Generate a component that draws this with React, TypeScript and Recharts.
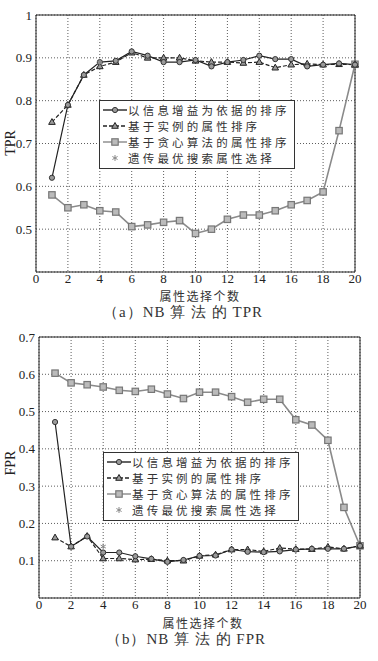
import React from 'react';
import {
  LineChart,
  Line,
  XAxis,
  YAxis,
  CartesianGrid,
  Legend,
  ReferenceArea,
} from 'recharts';

// 属性选择个数
const featureCounts = [1, 2, 3, 4, 5, 6, 7, 8, 9, 10, 11, 12, 13, 14, 15, 16, 17, 18, 19, 20];
const xTicks = [0, 2, 4, 6, 8, 10, 12, 14, 16, 18, 20];

// (a) TPR
const tprInfoGain = [0.62, 0.79, 0.86, 0.89, 0.893, 0.915, 0.905, 0.89, 0.89, 0.895, 0.88, 0.89, 0.895, 0.905, 0.897, 0.897, 0.88, 0.884, 0.887, 0.884];
const tprInstance = [0.75, 0.79, 0.86, 0.88, 0.89, 0.912, 0.9, 0.9, 0.9, 0.893, 0.89, 0.89, 0.888, 0.89, 0.877, 0.884, 0.886, 0.884, 0.885, 0.884];
const tprGreedy = [0.58, 0.55, 0.557, 0.543, 0.54, 0.506, 0.51, 0.516, 0.52, 0.49, 0.5, 0.523, 0.533, 0.533, 0.543, 0.557, 0.567, 0.587, 0.73, 0.885];
const tprGeneticX = 4;
const tprGenetic = 0.889;
const tprTicks = [0.5, 0.6, 0.7, 0.8, 0.9, 1];

// (b) FPR
const fprInfoGain = [0.472, 0.138, 0.165, 0.122, 0.122, 0.112, 0.105, 0.097, 0.102, 0.113, 0.114, 0.13, 0.124, 0.123, 0.125, 0.13, 0.132, 0.132, 0.132, 0.14];
const fprInstance = [0.162, 0.138, 0.166, 0.106, 0.106, 0.103, 0.104, 0.1, 0.1, 0.113, 0.116, 0.13, 0.13, 0.125, 0.134, 0.131, 0.131, 0.137, 0.132, 0.14];
const fprGreedy = [0.603, 0.577, 0.572, 0.566, 0.557, 0.554, 0.56, 0.547, 0.535, 0.552, 0.552, 0.54, 0.525, 0.533, 0.533, 0.478, 0.464, 0.423, 0.243, 0.14];
const fprGeneticX = 4;
const fprGenetic = 0.138;
const fprTicks = [0.1, 0.2, 0.3, 0.4, 0.5, 0.6, 0.7];

const seriesNames = ['以信息增益为依据的排序', '基于实例的属性排序', '基于贪心算法的属性排序', '遗传最优搜索属性选择'];

const SERIF = '"Liberation Serif", "Times New Roman", serif';
const CJK = '"Noto Sans CJK SC", sans-serif';

const buildRows = (a: number[], b: number[], c: number[], starX: number, star: number) =>
  featureCounts.map((x, i) => ({ x, a: a[i], b: b[i], c: c[i], d: x === starX ? star : null }));

const CircleDot = (props: any) => {
  const { cx, cy, index } = props;
  if (cy == null) return <g key={index} />;
  return <circle key={index} cx={cx} cy={cy} r={2.6} fill="#9a9a9a" stroke="#333" strokeWidth={1} />;
};

const TriDot = (props: any) => {
  const { cx, cy, index } = props;
  if (cy == null) return <g key={index} />;
  return (
    <path key={index} d={`M${cx},${cy - 3.5}L${cx + 3.3},${cy + 2.3}L${cx - 3.3},${cy + 2.3}Z`} fill="#9a9a9a" stroke="#222" strokeWidth={1} />
  );
};

const SquareDot = (props: any) => {
  const { cx, cy, index } = props;
  if (cy == null) return <g key={index} />;
  return <rect key={index} x={cx - 3.2} y={cy - 3.2} width={6.4} height={6.4} fill="#bbb" stroke="#777" strokeWidth={1.2} />;
};

const StarDot = (props: any) => {
  const { cx, cy, index } = props;
  if (cy == null) return <g key={index} />;
  return (
    <path
      key={index}
      d={`M${cx},${cy - 3}L${cx},${cy + 3}M${cx - 2.6},${cy - 1.5}L${cx + 2.6},${cy + 1.5}M${cx - 2.6},${cy + 1.5}L${cx + 2.6},${cy - 1.5}`}
      stroke="#888"
      strokeWidth={1}
    />
  );
};

const legendMarks = [
  { stroke: '#222', dash: undefined, mark: 'circle' },
  { stroke: '#222', dash: '4 2', mark: 'tri' },
  { stroke: '#888', dash: undefined, mark: 'square' },
  { stroke: 'none', dash: undefined, mark: 'star' },
];

const LegendBox = () => (
  <div
    style={{
      border: '1px solid #333',
      background: '#fff',
      padding: '1px 4px 2px 3px',
      fontFamily: CJK,
      fontSize: 11.5,
      letterSpacing: 3.2,
      color: '#333',
      lineHeight: '16px',
    }}
  >
    {seriesNames.map((name, i) => {
      const m = legendMarks[i];
      return (
        <div key={name} style={{ display: 'flex', alignItems: 'center', whiteSpace: 'nowrap', height: 16 }}>
          <svg width={24} height={16} style={{ marginRight: 1, flex: 'none' }}>
            {m.stroke !== 'none' && (
              <line x1={0} y1={8} x2={24} y2={8} stroke={m.stroke} strokeWidth={1.4} strokeDasharray={m.dash} />
            )}
            {m.mark === 'circle' && <CircleDot cx={12} cy={8} index={0} />}
            {m.mark === 'tri' && <TriDot cx={12} cy={8} index={0} />}
            {m.mark === 'square' && <SquareDot cx={12} cy={8} index={0} />}
            {m.mark === 'star' && <StarDot cx={12} cy={8} index={0} />}
          </svg>
          <span>{name}</span>
        </div>
      );
    })}
  </div>
);

const tickStyle = { fontFamily: SERIF, fontSize: 13, fill: '#222' };

interface PanelProps {
  rows: any[];
  yDomain: [number, number];
  yTicks: number[];
  margin: { top: number; right: number; left: number; bottom: number };
  legendPos: { left: number; top: number };
}

const Panel = ({ rows, yDomain, yTicks, margin, legendPos }: PanelProps) => (
  <LineChart width={378} height={330} data={rows} margin={margin}>
    <CartesianGrid stroke="#333" strokeDasharray="1 2" strokeWidth={0.8} />
    <ReferenceArea x1={0} x2={20} y1={yDomain[0]} y2={yDomain[1]} fill="none" stroke="#222" strokeWidth={1} ifOverflow="visible" />
    <XAxis
      type="number"
      dataKey="x"
      domain={[0, 20]}
      ticks={xTicks}
      interval={0}
      tickLine={false}
      axisLine={false}
      tickSize={2}
      tickMargin={0}
      tick={tickStyle}
      height={30}
    />
    <YAxis
      type="number"
      domain={yDomain}
      ticks={yTicks}
      interval={0}
      allowDataOverflow
      tickLine={false}
      axisLine={false}
      tickMargin={0}
      tickSize={4}
      tick={tickStyle}
      tickFormatter={(v: number) => String(v)}
      width={30}
    />
    <Legend
      layout="vertical"
      align="center"
      verticalAlign="middle"
      content={() => <LegendBox />}
      wrapperStyle={{ left: legendPos.left, top: legendPos.top, width: 'auto' }}
    />
    <Line dataKey="c" stroke="#8a8a8a" strokeWidth={1.6} dot={SquareDot} isAnimationActive={false} />
    <Line dataKey="b" stroke="#222" strokeWidth={1.2} strokeDasharray="4 2" dot={TriDot} isAnimationActive={false} />
    <Line dataKey="a" stroke="#222" strokeWidth={1.2} dot={CircleDot} isAnimationActive={false} />
    <Line dataKey="d" stroke="none" dot={StarDot} isAnimationActive={false} />
  </LineChart>
);

const textBase: React.CSSProperties = { position: 'absolute', whiteSpace: 'nowrap', color: '#333', transform: 'translateX(-50%)' };
const yLabelStyle: React.CSSProperties = {
  position: 'absolute',
  whiteSpace: 'nowrap',
  color: '#222',
  fontFamily: SERIF,
  fontSize: 14,
  lineHeight: '14px',
  transform: 'translate(-50%, -50%) rotate(-90deg)',
};

export default function App() {
  const tprRows = buildRows(tprInfoGain, tprInstance, tprGreedy, tprGeneticX, tprGenetic);
  const fprRows = buildRows(fprInfoGain, fprInstance, fprGreedy, fprGeneticX, fprGenetic);

  return (
    <div style={{ position: 'absolute', left: 0, top: 0, width: 378, height: 661, background: '#fff' }}>
      <div style={{ position: 'absolute', left: 0, top: 0 }}>
        <Panel
          rows={tprRows}
          yDomain={[0.4, 1]}
          yTicks={tprTicks}
          margin={{ top: 15, right: 23, left: 6, bottom: 28 }}
          legendPos={{ left: 99, top: 100 }}
        />
      </div>
      <div style={{ ...yLabelStyle, left: 11, top: 143 }}>TPR</div>
      <div style={{ ...textBase, left: 200, top: 287, fontFamily: CJK, fontSize: 12, letterSpacing: 1.5 }}>属性选择个数</div>
      <div style={{ ...textBase, left: 183, top: 303, fontFamily: SERIF, fontSize: 15, letterSpacing: 1 }}>
        （a）NB 算 法 的 TPR
      </div>

      <div style={{ position: 'absolute', left: 0, top: 330 }}>
        <Panel
          rows={fprRows}
          yDomain={[0, 0.7]}
          yTicks={fprTicks}
          margin={{ top: 7, right: 18, left: 9, bottom: 32 }}
          legendPos={{ left: 103, top: 122 }}
        />
      </div>
      <div style={{ ...yLabelStyle, left: 11, top: 463 }}>FPR</div>
      <div style={{ ...textBase, left: 203, top: 614, fontFamily: CJK, fontSize: 12, letterSpacing: 1.5 }}>属性选择个数</div>
      <div style={{ ...textBase, left: 186, top: 630, fontFamily: SERIF, fontSize: 15, letterSpacing: 1 }}>
        （b）NB 算 法 的 FPR
      </div>
    </div>
  );
}
